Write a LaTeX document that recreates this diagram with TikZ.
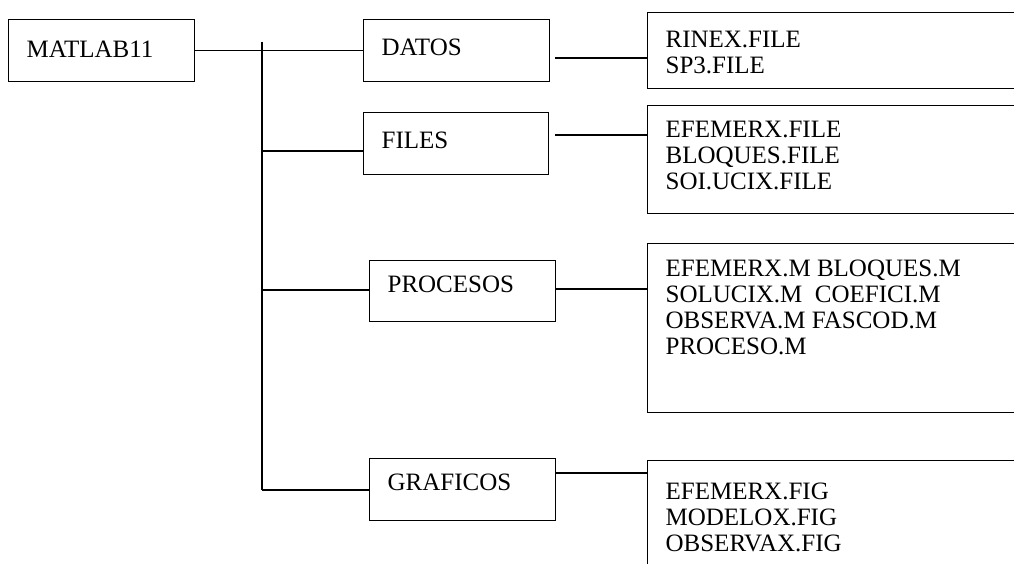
\documentclass[tikz,border=0pt]{standalone}
\usepackage{fontspec}
\setmainfont{Liberation Serif}
\begin{document}
\begin{tikzpicture}[
    x=1pt, y=-1pt,
    line width=1.2pt,
    every node/.style={font=\fontsize{25}{26}\selectfont},
    box/.style={draw, inner sep=0pt, anchor=north west,
                minimum width=186pt, minimum height=62pt},
    filebox/.style={box, minimum width=420pt},
    boxtext/.style={anchor=north west, inner sep=0pt, align=left,
                    xshift=18pt, yshift=-15pt}
]
\useasboundingbox (0,0) rectangle (1014,564);
\clip (0,0) rectangle (1014,564);

% --- ROOT ---
\node[box, label={[boxtext, yshift=-6pt]north west:MATLAB11}] (matlab) at (8,19) {};

% --- FOLDERS ---
\node[box, label={[boxtext, yshift=-4pt]north west:DATOS}] (datos) at (363,19) {};
\node[box, minimum width=185pt, label={[boxtext, yshift=-4pt]north west:FILES}] (files) at (363,112) {};
\node[box, minimum height=61pt, label={[boxtext]north west:PROCESOS}] (procesos) at (369,260) {};
\node[box, label={[boxtext]north west:GRAFICOS}] (graficos) at (369,458) {};

% --- CONTENTS ---
\node[filebox, minimum height=76pt,
      label={[boxtext, yshift=-4pt]north west:{RINEX.FILE\\SP3.FILE}}] (datosfiles) at (647,12) {};
\node[filebox, minimum height=108pt,
      label={[boxtext, yshift=-1pt]north west:{EFEMERX.FILE\\BLOQUES.FILE\\SOI.UCIX.FILE}}] (filesfiles) at (647,105) {};
\node[filebox, minimum height=169pt,
      label={[boxtext, yshift=-1pt]north west:{EFEMERX.M BLOQUES.M\\SOLUCIX.M\ \ COEFICI.M\\OBSERVA.M FASCOD.M\\PROCESO.M}}] (procesosfiles) at (647,243) {};
\node[filebox, minimum height=200pt,
      label={[boxtext, yshift=-7pt]north west:{EFEMERX.FIG\\MODELOX.FIG\\OBSERVAX.FIG}}] (graficosfiles) at (647,460) {};

% trunk
\coordinate (trunktop) at (262,42);
\coordinate (jfiles) at (262,151);
\coordinate (jprocesos) at (262,290);
\coordinate (jgraficos) at (262,490);
\draw (trunktop) -- (jgraficos);
\draw (matlab.east) -- (datos.west);
\draw (jfiles) -- (jfiles -| files.west);
\draw (jprocesos) -- (jprocesos -| procesos.west);
\draw (jgraficos) -- (jgraficos -| graficos.west);

% OUT
\coordinate (odatos) at (555,58);
\coordinate (ofiles) at (555,135);
\coordinate (oprocesos) at (555,289);
\coordinate (ograficos) at (555,473);
\draw (odatos) -- (odatos -| datosfiles.west);
\draw (ofiles) -- (ofiles -| filesfiles.west);
\draw (oprocesos) -- (oprocesos -| procesosfiles.west);
\draw (ograficos) -- (ograficos -| graficosfiles.west);

\end{tikzpicture}
\end{document}
